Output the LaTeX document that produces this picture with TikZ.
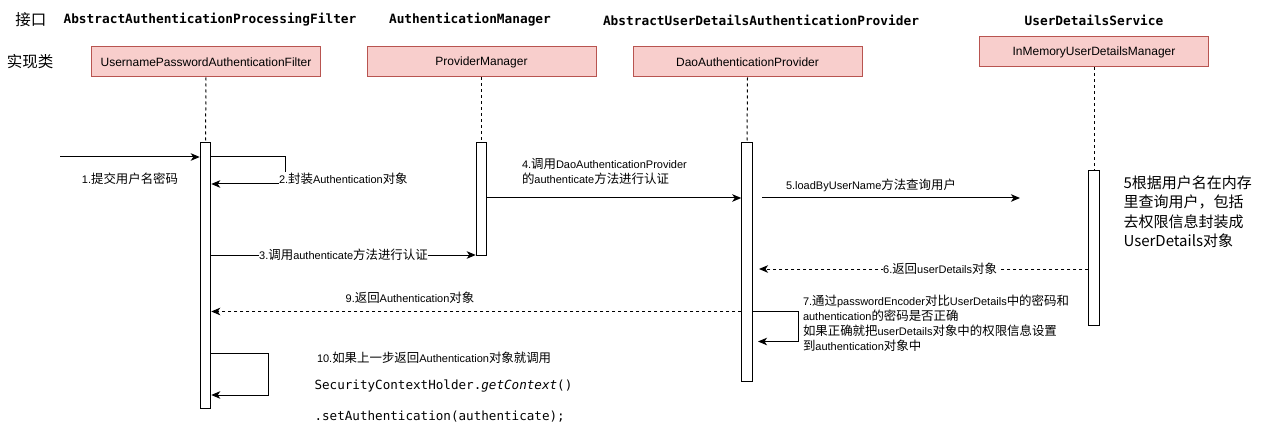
\documentclass[tikz,border=0pt]{standalone}
\usepackage{fontspec}
\setmainfont{Liberation Sans}
\newfontfamily\cjk{Noto Sans CJK SC}
\newfontfamily\cjklbl[Scale=1.13]{Noto Sans CJK SC}
\newfontfamily\mono{DejaVu Sans Mono}
\usetikzlibrary{arrows.meta}
\newcommand\zh[1]{{\cjklbl #1}}
\definecolor{boxfill}{HTML}{F8CECC}
\definecolor{boxline}{HTML}{B85450}
\begin{document}
\begin{tikzpicture}[x=1pt,y=-1pt,line width=1pt,
  objbox/.style={draw=boxline,fill=boxfill,minimum width=229pt,minimum height=30pt,inner sep=0pt,font=\fontsize{12}{14}\selectfont},
  actbar/.style={draw=black,fill=white,minimum width=10.5pt,inner sep=0pt},
  lifeline/.style={dash pattern=on 3pt off 3pt},
  msg/.style={-{Stealth[length=9pt,width=7.5pt,inset=2.5pt]}},
  retmsg/.style={msg,dash pattern=on 3pt off 3pt},
  lbl/.style={font=\fontsize{11}{15}\selectfont,inner sep=0.5pt,align=left},
  hdr/.style={font=\mono\bfseries\fontsize{12.8}{15}\selectfont,inner sep=0pt},
  zhhdr/.style={font=\cjk\fontsize{15.5}{18}\selectfont,inner sep=0pt},
  codetext/.style={font=\mono\fontsize{12.6}{15}\selectfont,inner sep=0pt,anchor=west}]
\useasboundingbox (0,0) rectangle (1262,441);

% headers
\node[zhhdr] (hj) at (31,20) {接口};
\node[zhhdr] (hs) at (30,62) {实现类};
\node[hdr] (h1) at (210,20) {AbstractAuthenticationProcessingFilter};
\node[hdr] (h2) at (470,20) {AuthenticationManager};
\node[hdr] (h3) at (761,20) {AbstractUserDetailsAuthenticationProvider};
\node[hdr] (h4) at (1094,20) {UserDetailsService};

% objects
\node[objbox] (o1) at (206,62) {UsernamePasswordAuthenticationFilter};
\node[objbox] (o2) at (481.5,62) {ProviderManager};
\node[objbox] (o3) at (747.5,62) {DaoAuthenticationProvider};
\node[objbox] (o4) at (1094,52) {InMemoryUserDetailsManager};

% activation bars
\node[actbar,minimum height=265pt] (b1) at (205.5,275.5) {};
\node[actbar,minimum height=112pt] (b2) at (481.5,199) {};
\node[actbar,minimum height=238pt] (b3) at (747,262) {};
\node[actbar,minimum height=154pt] (b4) at (1094,248) {};

% lifelines
\draw[lifeline] (o1.south) -- (b1.north);
\draw[lifeline] (o2.south) -- (b2.north);
\draw[lifeline] (o3.south) -- (b3.north);
\draw[lifeline] (o4.south) -- (b4.north);

% 1
\coordinate (s1) at (60,157);
\draw[msg] (s1) -- (b1.west |- s1);
\node[lbl] (l1) at (130,179) {1.\zh{提交用户名密码}};

% 2 self
\coordinate (c2a) at (285,157);
\coordinate (c2b) at (285,184);
\draw[msg] (b1.east |- c2a) -- (c2a) -- (c2b) -- (b1.east |- c2b);
\node[lbl,fill=white,anchor=west] (l2) at (278,178.5) {2.\zh{封装}Authentication\zh{对象}};

% 3
\coordinate (y3) at (0,255);
\draw[msg] (b1.east |- y3) -- (b2.west |- y3) node[midway,lbl,fill=white] (l3) {3.\zh{调用}authenticate\zh{方法进行认证}};

% 4
\coordinate (y4) at (0,198);
\draw[msg] (b2.east |- y4) -- (b3.west |- y4);
\node[lbl,anchor=west] (l4) at (521,171) {4.\zh{调用}DaoAuthenticationProvider\\\zh{的}authenticate\zh{方法进行认证}};

% 5
\coordinate (s5) at (762,198);
\coordinate (e5) at (1020,198);
\draw[msg] (s5) -- (e5);
\node[lbl,anchor=west] (l5) at (785,185) {5.loadByUserName\zh{方法查询用户}};

% note
\node[font=\cjk\fontsize{15}{19.5}\selectfont,align=left,anchor=north west,inner sep=0pt] (note) at (1123,175)
  {5根据用户名在内存\\里查询用户，包括\\去权限信息封装成\\UserDetails对象};

% 6
\coordinate (y6) at (0,269);
\coordinate (e6) at (759,269);
\draw[retmsg] (b4.west |- y6) -- (e6) node[pos=0.45,lbl,fill=white] (l6) {6.\zh{返回}userDetails\zh{对象}};

% 7 self
\coordinate (c7a) at (798,311.5);
\coordinate (c7b) at (798,341.5);
\coordinate (e7) at (758,341.5);
\draw[msg] (b3.east |- c7a) -- (c7a) -- (c7b) -- (e7);
\node[lbl,anchor=north west,font=\fontsize{11}{15}\selectfont] (l7) at (802,294)
  {7.\zh{通过}passwordEncoder\zh{对比}UserDetails\zh{中的密码和}\\authentication\zh{的密码是否正确}\\\zh{如果正确就把}userDetails\zh{对象中的权限信息设置}\\\zh{到}authentication\zh{对象中}};

% 9
\coordinate (y9) at (0,311.5);
\draw[retmsg] (b3.west |- y9) -- (b1.east |- y9);
\node[lbl] (l9) at (410,298) {9.\zh{返回}Authentication\zh{对象}};

% 10 self
\coordinate (c10a) at (268,353);
\coordinate (c10b) at (268,395);
\draw[msg] (b1.east |- c10a) -- (c10a) -- (c10b) -- (b1.east |- c10b);
\node[lbl,anchor=west] (l10) at (316,358) {10.\zh{如果上一步返回}Authentication\zh{对象就调用}};
\node[codetext] (code1) at (314,386) {SecurityContextHolder.\textit{getContext}()};
\node[codetext] (code2) at (314,417) {.setAuthentication(authenticate);};
\end{tikzpicture}
\end{document}
